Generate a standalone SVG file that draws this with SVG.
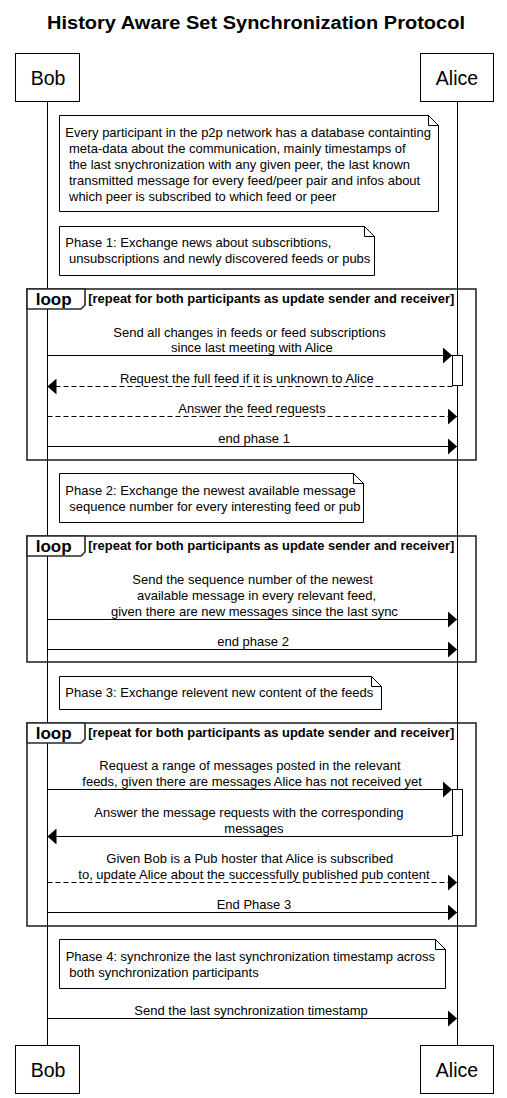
<svg xmlns="http://www.w3.org/2000/svg" width="507" height="1098" viewBox="0 0 507 1098">
<defs>
<style>
text{font-family:"Liberation Sans",Arial,sans-serif;fill:#000}
.title{font-size:18px;font-weight:bold}
.actor{font-size:19.5px;text-anchor:middle}
.box{fill:#fff;stroke:#000;stroke-width:1}
.life{stroke:#000;stroke-width:1}
.note{fill:#fff;stroke:#000;stroke-width:1}
.fold{fill:none;stroke:#000;stroke-width:1}
.nt{font-size:13px}
.msg{font-size:13px}
.frame{fill:none;stroke:#2a2a2a;stroke-width:1.6}
.tab{fill:#fff;stroke:#2a2a2a;stroke-width:1.6}
.loopk{font-size:16px;font-weight:bold}
.cond{font-size:13px;font-weight:bold}
.ln{stroke:#000;stroke-width:1;fill:none}
.dash{stroke-dasharray:5,3}
.act{fill:#fff;stroke:#000;stroke-width:1}
</style>
<marker id="ah" viewBox="0 0 9 16" markerWidth="9" markerHeight="16" refX="9" refY="8" orient="auto-start-reverse" markerUnits="userSpaceOnUse">
<path d="M0,0 L9,8 L0,16 Z" fill="#000"/>
</marker>
</defs>
<rect width="507" height="1098" fill="#fff"/>
<text class="title" x="47" y="29.3" textLength="418" lengthAdjust="spacingAndGlyphs">History Aware Set Synchronization Protocol</text>

<g id="lifelines">
<line class="life" x1="47.5" y1="102" x2="47.5" y2="1045"/>
<line class="life" x1="457.5" y1="102" x2="457.5" y2="1045"/>
</g>

<g id="bob-top"><rect class="box" x="15.5" y="53.5" width="64" height="48"/><text class="actor" x="48" y="85">Bob</text></g>
<g id="alice-top"><rect class="box" x="420.5" y="53.5" width="73" height="48"/><text class="actor" x="457" y="85">Alice</text></g>
<g id="bob-bottom"><rect class="box" x="15.5" y="1045.5" width="64" height="48"/><text class="actor" x="48" y="1077">Bob</text></g>
<g id="alice-bottom"><rect class="box" x="420.5" y="1045.5" width="73" height="48"/><text class="actor" x="457" y="1077">Alice</text></g>

<g id="note-intro">
<path class="note" d="M59.5,115.5 H428.5 L438.5,125.5 V211.5 H59.5 Z"/>
<path class="fold" d="M428.5,115.5 V125.5 H438.5"/>
<text class="nt" x="65.3" y="137">Every participant in the p2p network has a database containting</text>
<text class="nt" x="69" y="153">meta-data about the communication, mainly timestamps of</text>
<text class="nt" x="69" y="169">the last snychronization with any given peer, the last known</text>
<text class="nt" x="69" y="185">transmitted message for every feed/peer pair and infos about</text>
<text class="nt" x="69" y="201">which peer is subscribed to which feed or peer</text>
</g>

<g id="note-phase1">
<path class="note" d="M59.5,226.5 H364.5 L374.5,236.5 V275.5 H59.5 Z"/>
<path class="fold" d="M364.5,226.5 V236.5 H374.5"/>
<text class="nt" x="65.3" y="247">Phase 1: Exchange news about subscribtions,</text>
<text class="nt" x="69" y="263">unsubscriptions and newly discovered feeds or pubs</text>
</g>

<g id="loop1">
<rect class="frame" x="27" y="289" width="449" height="171"/>
<path class="tab" d="M27,289 H85 V305 L81,309 H27 Z"/>
<text class="loopk" x="35.7" y="305" textLength="36" lengthAdjust="spacingAndGlyphs">loop</text>
<text class="cond" x="88.3" y="302.5" textLength="366" lengthAdjust="spacingAndGlyphs">[repeat for both participants as update sender and receiver]</text>
</g>

<g id="note-phase2">
<path class="note" d="M59.5,473.5 H353.5 L363.5,483.5 V522.5 H59.5 Z"/>
<path class="fold" d="M353.5,473.5 V483.5 H363.5"/>
<text class="nt" x="65.3" y="495">Phase 2: Exchange the newest available message</text>
<text class="nt" x="69.3" y="511">sequence number for every interesting feed or pub</text>
</g>

<g id="loop2">
<rect class="frame" x="27" y="536" width="449" height="126"/>
<path class="tab" d="M27,536 H85 V552 L81,556 H27 Z"/>
<text class="loopk" x="35.7" y="552" textLength="36" lengthAdjust="spacingAndGlyphs">loop</text>
<text class="cond" x="88.3" y="549.5" textLength="366" lengthAdjust="spacingAndGlyphs">[repeat for both participants as update sender and receiver]</text>
</g>

<g id="note-phase3">
<path class="note" d="M59.5,676.5 H371.5 L381.5,686.5 V709.5 H59.5 Z"/>
<path class="fold" d="M371.5,676.5 V686.5 H381.5"/>
<text class="nt" x="65.3" y="697">Phase 3: Exchange relevent new content of the feeds</text>
</g>

<g id="loop3">
<rect class="frame" x="27" y="723" width="449" height="203"/>
<path class="tab" d="M27,723 H85 V739 L81,743 H27 Z"/>
<text class="loopk" x="35.7" y="739" textLength="36" lengthAdjust="spacingAndGlyphs">loop</text>
<text class="cond" x="88.3" y="736.5" textLength="366" lengthAdjust="spacingAndGlyphs">[repeat for both participants as update sender and receiver]</text>
</g>

<g id="note-phase4">
<path class="note" d="M59.5,939.5 H435.5 L445.5,949.5 V988.5 H59.5 Z"/>
<path class="fold" d="M435.5,939.5 V949.5 H445.5"/>
<text class="nt" x="65.7" y="961">Phase 4: synchronize the last synchronization timestamp across</text>
<text class="nt" x="69.3" y="977">both synchronization participants</text>
</g>

<g id="activations">
<rect class="act" x="452.5" y="355.5" width="10" height="30"/>
<rect class="act" x="452.5" y="789.5" width="10" height="46"/>
</g>

<g id="connectors">
<line class="ln" x1="47.5" y1="355.5" x2="452" y2="355.5" marker-end="url(#ah)"/>
<text class="msg" x="113.3" y="336.5">Send all changes in feeds or feed subscriptions</text>
<text class="msg" x="171" y="352.3">since last meeting with Alice</text>

<line class="ln dash" x1="452.5" y1="386.5" x2="47.5" y2="386.5" marker-end="url(#ah)"/>
<text class="msg" x="120" y="382.5">Request the full feed if it is unknown to Alice</text>

<line class="ln dash" x1="47.5" y1="416.5" x2="457" y2="416.5" marker-end="url(#ah)"/>
<text class="msg" x="178.3" y="413">Answer the feed requests</text>

<line class="ln" x1="47.5" y1="446.5" x2="457" y2="446.5" marker-end="url(#ah)"/>
<text class="msg" x="218.3" y="443">end phase 1</text>

<line class="ln" x1="47.5" y1="619.5" x2="457" y2="619.5" marker-end="url(#ah)"/>
<text class="msg" x="132.3" y="584">Send the sequence number of the newest</text>
<text class="msg" x="137" y="600">available message in every relevant feed,</text>
<text class="msg" x="111" y="616">given there are new messages since the last sync</text>

<line class="ln" x1="47.5" y1="649.5" x2="457" y2="649.5" marker-end="url(#ah)"/>
<text class="msg" x="217.3" y="646">end phase 2</text>

<line class="ln" x1="47.5" y1="789.5" x2="452" y2="789.5" marker-end="url(#ah)"/>
<text class="msg" x="99.3" y="770">Request a range of messages posted in the relevant</text>
<text class="msg" x="82.3" y="786">feeds, given there are messages Alice has not received yet</text>

<line class="ln" x1="452.5" y1="836.5" x2="47.5" y2="836.5" marker-end="url(#ah)"/>
<text class="msg" x="94.3" y="817">Answer the message requests with the corresponding</text>
<text class="msg" x="224.3" y="833">messages</text>

<line class="ln dash" x1="47.5" y1="882.5" x2="457" y2="882.5" marker-end="url(#ah)"/>
<text class="msg" x="106.3" y="863">Given Bob is a Pub hoster that Alice is subscribed</text>
<text class="msg" x="78.3" y="879">to, update Alice about the successfully published pub content</text>

<line class="ln" x1="47.5" y1="912.5" x2="457" y2="912.5" marker-end="url(#ah)"/>
<text class="msg" x="216.7" y="909">End Phase 3</text>

<line class="ln" x1="47.5" y1="1018.5" x2="457" y2="1018.5" marker-end="url(#ah)"/>
<text class="msg" x="134.3" y="1015">Send the last synchronization timestamp</text>
</g>
</svg>
